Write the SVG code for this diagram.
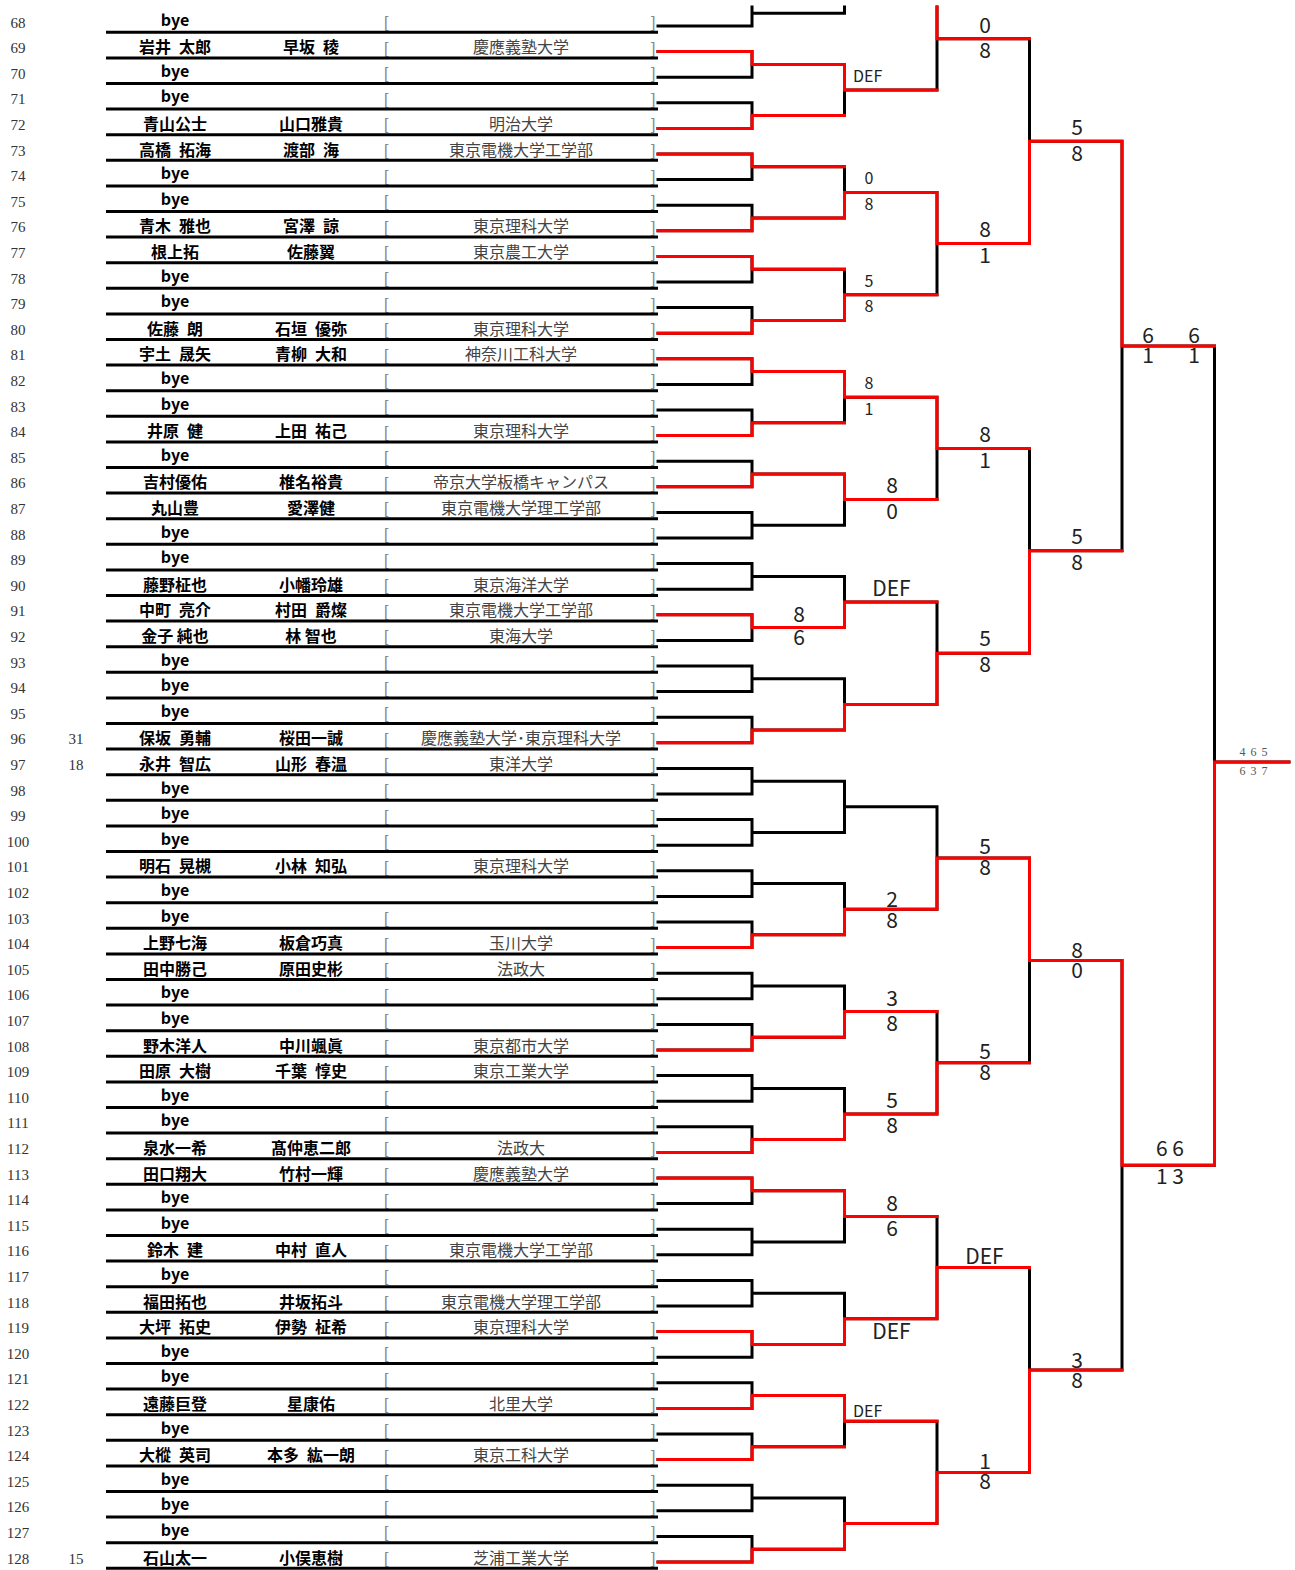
<svg xmlns="http://www.w3.org/2000/svg" xmlns:xlink="http://www.w3.org/1999/xlink" width="1295" height="1570" viewBox="0 0 1295 1570">
<style>
.num{font-family:"Liberation Serif",serif;font-size:15px;fill:#333;text-anchor:middle;dominant-baseline:central}
.nm{font-family:"Noto Sans CJK JP",sans-serif;font-size:16px;font-weight:bold;fill:#000;text-anchor:middle;dominant-baseline:central;transform:translateY(-2px)}
.by{transform:translateY(-4px)}
.un{font-family:"Noto Sans CJK JP",sans-serif;font-size:16px;fill:#444;text-anchor:middle;dominant-baseline:central;transform:translateY(-2px)}
.br{font-family:"Liberation Sans",sans-serif;font-size:16px;fill:#888;dominant-baseline:central}
.sc{font-family:"Noto Sans CJK JP",sans-serif;font-size:21px;fill:#222;text-anchor:middle;dominant-baseline:central;transform:translateY(-1px)}
.ss{font-size:16px}
.st{text-anchor:start}
.fin{font-family:"Liberation Serif",serif;font-size:12px;fill:#555;text-anchor:middle;dominant-baseline:central;letter-spacing:1px}
.blk{fill:none;stroke:#000;stroke-width:3;stroke-linecap:square;stroke-linejoin:miter}
.red{fill:none;stroke:#f00;stroke-width:3;stroke-linecap:square;stroke-linejoin:miter}
</style>
<defs>
<line id="rl" x1="106" y1="9.8" x2="658" y2="9.8" stroke="#000" stroke-width="3"/>
<text id="lb" class="br" x="384" y="0">[</text>
<text id="rb" class="br" x="651" y="0">]</text>
</defs>
<rect width="1295" height="1570" fill="#fff"/>
<g id="rows">
<g id="row68" transform="translate(0 22.5)"><text class="num" x="18">68</text><text class="nm by" x="175">bye</text><use href="#lb"/><use href="#rb"/><use href="#rl"/></g>
<g id="row69" transform="translate(0 48.1)"><text class="num" x="18">69</text><text class="nm" x="175">岩井&#8194;太郎</text><text class="nm" x="311">早坂&#8194;稜</text><use href="#lb"/><text class="un" x="521">慶應義塾大学</text><use href="#rb"/><use href="#rl"/></g>
<g id="row70" transform="translate(0 73.7)"><text class="num" x="18">70</text><text class="nm by" x="175">bye</text><use href="#lb"/><use href="#rb"/><use href="#rl"/></g>
<g id="row71" transform="translate(0 99.3)"><text class="num" x="18">71</text><text class="nm by" x="175">bye</text><use href="#lb"/><use href="#rb"/><use href="#rl"/></g>
<g id="row72" transform="translate(0 124.9)"><text class="num" x="18">72</text><text class="nm" x="175">青山公士</text><text class="nm" x="311">山口雅貴</text><use href="#lb"/><text class="un" x="521">明治大学</text><use href="#rb"/><use href="#rl"/></g>
<g id="row73" transform="translate(0 150.5)"><text class="num" x="18">73</text><text class="nm" x="175">高橋&#8194;拓海</text><text class="nm" x="311">渡部&#8194;海</text><use href="#lb"/><text class="un" x="521">東京電機大学工学部</text><use href="#rb"/><use href="#rl"/></g>
<g id="row74" transform="translate(0 176.1)"><text class="num" x="18">74</text><text class="nm by" x="175">bye</text><use href="#lb"/><use href="#rb"/><use href="#rl"/></g>
<g id="row75" transform="translate(0 201.7)"><text class="num" x="18">75</text><text class="nm by" x="175">bye</text><use href="#lb"/><use href="#rb"/><use href="#rl"/></g>
<g id="row76" transform="translate(0 227.3)"><text class="num" x="18">76</text><text class="nm" x="175">青木&#8194;雅也</text><text class="nm" x="311">宮澤&#8194;諒</text><use href="#lb"/><text class="un" x="521">東京理科大学</text><use href="#rb"/><use href="#rl"/></g>
<g id="row77" transform="translate(0 252.9)"><text class="num" x="18">77</text><text class="nm" x="175">根上拓</text><text class="nm" x="311">佐藤翼</text><use href="#lb"/><text class="un" x="521">東京農工大学</text><use href="#rb"/><use href="#rl"/></g>
<g id="row78" transform="translate(0 278.5)"><text class="num" x="18">78</text><text class="nm by" x="175">bye</text><use href="#lb"/><use href="#rb"/><use href="#rl"/></g>
<g id="row79" transform="translate(0 304.1)"><text class="num" x="18">79</text><text class="nm by" x="175">bye</text><use href="#lb"/><use href="#rb"/><use href="#rl"/></g>
<g id="row80" transform="translate(0 329.7)"><text class="num" x="18">80</text><text class="nm" x="175">佐藤&#8194;朗</text><text class="nm" x="311">石垣&#8194;優弥</text><use href="#lb"/><text class="un" x="521">東京理科大学</text><use href="#rb"/><use href="#rl"/></g>
<g id="row81" transform="translate(0 355.3)"><text class="num" x="18">81</text><text class="nm" x="175">宇土&#8194;晟矢</text><text class="nm" x="311">青柳&#8194;大和</text><use href="#lb"/><text class="un" x="521">神奈川工科大学</text><use href="#rb"/><use href="#rl"/></g>
<g id="row82" transform="translate(0 380.9)"><text class="num" x="18">82</text><text class="nm by" x="175">bye</text><use href="#lb"/><use href="#rb"/><use href="#rl"/></g>
<g id="row83" transform="translate(0 406.5)"><text class="num" x="18">83</text><text class="nm by" x="175">bye</text><use href="#lb"/><use href="#rb"/><use href="#rl"/></g>
<g id="row84" transform="translate(0 432.1)"><text class="num" x="18">84</text><text class="nm" x="175">井原&#8194;健</text><text class="nm" x="311">上田&#8194;祐己</text><use href="#lb"/><text class="un" x="521">東京理科大学</text><use href="#rb"/><use href="#rl"/></g>
<g id="row85" transform="translate(0 457.7)"><text class="num" x="18">85</text><text class="nm by" x="175">bye</text><use href="#lb"/><use href="#rb"/><use href="#rl"/></g>
<g id="row86" transform="translate(0 483.3)"><text class="num" x="18">86</text><text class="nm" x="175">吉村優佑</text><text class="nm" x="311">椎名裕貴</text><use href="#lb"/><text class="un" x="521">帝京大学板橋キャンパス</text><use href="#rb"/><use href="#rl"/></g>
<g id="row87" transform="translate(0 508.9)"><text class="num" x="18">87</text><text class="nm" x="175">丸山豊</text><text class="nm" x="311">愛澤健</text><use href="#lb"/><text class="un" x="521">東京電機大学理工学部</text><use href="#rb"/><use href="#rl"/></g>
<g id="row88" transform="translate(0 534.5)"><text class="num" x="18">88</text><text class="nm by" x="175">bye</text><use href="#lb"/><use href="#rb"/><use href="#rl"/></g>
<g id="row89" transform="translate(0 560.1)"><text class="num" x="18">89</text><text class="nm by" x="175">bye</text><use href="#lb"/><use href="#rb"/><use href="#rl"/></g>
<g id="row90" transform="translate(0 585.7)"><text class="num" x="18">90</text><text class="nm" x="175">藤野柾也</text><text class="nm" x="311">小幡玲雄</text><use href="#lb"/><text class="un" x="521">東京海洋大学</text><use href="#rb"/><use href="#rl"/></g>
<g id="row91" transform="translate(0 611.3)"><text class="num" x="18">91</text><text class="nm" x="175">中町&#8194;亮介</text><text class="nm" x="311">村田&#8194;爵燦</text><use href="#lb"/><text class="un" x="521">東京電機大学工学部</text><use href="#rb"/><use href="#rl"/></g>
<g id="row92" transform="translate(0 636.9)"><text class="num" x="18">92</text><text class="nm" x="175">金子 純也</text><text class="nm" x="311">林 智也</text><use href="#lb"/><text class="un" x="521">東海大学</text><use href="#rb"/><use href="#rl"/></g>
<g id="row93" transform="translate(0 662.5)"><text class="num" x="18">93</text><text class="nm by" x="175">bye</text><use href="#lb"/><use href="#rb"/><use href="#rl"/></g>
<g id="row94" transform="translate(0 688.1)"><text class="num" x="18">94</text><text class="nm by" x="175">bye</text><use href="#lb"/><use href="#rb"/><use href="#rl"/></g>
<g id="row95" transform="translate(0 713.7)"><text class="num" x="18">95</text><text class="nm by" x="175">bye</text><use href="#lb"/><use href="#rb"/><use href="#rl"/></g>
<g id="row96" transform="translate(0 739.3)"><text class="num" x="18">96</text><text class="num" x="76">31</text><text class="nm" x="175">保坂&#8194;勇輔</text><text class="nm" x="311">桜田一誠</text><use href="#lb"/><text class="un" x="521">慶應義塾大学･東京理科大学</text><use href="#rb"/><use href="#rl"/></g>
<g id="row97" transform="translate(0 764.9)"><text class="num" x="18">97</text><text class="num" x="76">18</text><text class="nm" x="175">永井&#8194;智広</text><text class="nm" x="311">山形&#8194;春温</text><use href="#lb"/><text class="un" x="521">東洋大学</text><use href="#rb"/><use href="#rl"/></g>
<g id="row98" transform="translate(0 790.5)"><text class="num" x="18">98</text><text class="nm by" x="175">bye</text><use href="#lb"/><use href="#rb"/><use href="#rl"/></g>
<g id="row99" transform="translate(0 816.1)"><text class="num" x="18">99</text><text class="nm by" x="175">bye</text><use href="#lb"/><use href="#rb"/><use href="#rl"/></g>
<g id="row100" transform="translate(0 841.7)"><text class="num" x="18">100</text><text class="nm by" x="175">bye</text><use href="#lb"/><use href="#rb"/><use href="#rl"/></g>
<g id="row101" transform="translate(0 867.3)"><text class="num" x="18">101</text><text class="nm" x="175">明石&#8194;晃槻</text><text class="nm" x="311">小林&#8194;知弘</text><use href="#lb"/><text class="un" x="521">東京理科大学</text><use href="#rb"/><use href="#rl"/></g>
<g id="row102" transform="translate(0 892.9)"><text class="num" x="18">102</text><text class="nm by" x="175">bye</text><use href="#rb"/><use href="#rl"/></g>
<g id="row103" transform="translate(0 918.5)"><text class="num" x="18">103</text><text class="nm by" x="175">bye</text><use href="#lb"/><use href="#rb"/><use href="#rl"/></g>
<g id="row104" transform="translate(0 944.1)"><text class="num" x="18">104</text><text class="nm" x="175">上野七海</text><text class="nm" x="311">板倉巧真</text><use href="#lb"/><text class="un" x="521">玉川大学</text><use href="#rb"/><use href="#rl"/></g>
<g id="row105" transform="translate(0 969.7)"><text class="num" x="18">105</text><text class="nm" x="175">田中勝己</text><text class="nm" x="311">原田史彬</text><use href="#lb"/><text class="un" x="521">法政大</text><use href="#rb"/><use href="#rl"/></g>
<g id="row106" transform="translate(0 995.3)"><text class="num" x="18">106</text><text class="nm by" x="175">bye</text><use href="#lb"/><use href="#rb"/><use href="#rl"/></g>
<g id="row107" transform="translate(0 1020.9)"><text class="num" x="18">107</text><text class="nm by" x="175">bye</text><use href="#lb"/><use href="#rb"/><use href="#rl"/></g>
<g id="row108" transform="translate(0 1046.5)"><text class="num" x="18">108</text><text class="nm" x="175">野木洋人</text><text class="nm" x="311">中川颯眞</text><use href="#lb"/><text class="un" x="521">東京都市大学</text><use href="#rb"/><use href="#rl"/></g>
<g id="row109" transform="translate(0 1072.1)"><text class="num" x="18">109</text><text class="nm" x="175">田原&#8194;大樹</text><text class="nm" x="311">千葉&#8194;惇史</text><use href="#lb"/><text class="un" x="521">東京工業大学</text><use href="#rb"/><use href="#rl"/></g>
<g id="row110" transform="translate(0 1097.7)"><text class="num" x="18">110</text><text class="nm by" x="175">bye</text><use href="#lb"/><use href="#rb"/><use href="#rl"/></g>
<g id="row111" transform="translate(0 1123.3)"><text class="num" x="18">111</text><text class="nm by" x="175">bye</text><use href="#lb"/><use href="#rb"/><use href="#rl"/></g>
<g id="row112" transform="translate(0 1148.9)"><text class="num" x="18">112</text><text class="nm" x="175">泉水一希</text><text class="nm" x="311">髙仲恵二郎</text><use href="#lb"/><text class="un" x="521">法政大</text><use href="#rb"/><use href="#rl"/></g>
<g id="row113" transform="translate(0 1174.5)"><text class="num" x="18">113</text><text class="nm" x="175">田口翔大</text><text class="nm" x="311">竹村一輝</text><use href="#lb"/><text class="un" x="521">慶應義塾大学</text><use href="#rb"/><use href="#rl"/></g>
<g id="row114" transform="translate(0 1200.1)"><text class="num" x="18">114</text><text class="nm by" x="175">bye</text><use href="#lb"/><use href="#rb"/><use href="#rl"/></g>
<g id="row115" transform="translate(0 1225.7)"><text class="num" x="18">115</text><text class="nm by" x="175">bye</text><use href="#lb"/><use href="#rb"/><use href="#rl"/></g>
<g id="row116" transform="translate(0 1251.3)"><text class="num" x="18">116</text><text class="nm" x="175">鈴木&#8194;建</text><text class="nm" x="311">中村&#8194;直人</text><use href="#lb"/><text class="un" x="521">東京電機大学工学部</text><use href="#rb"/><use href="#rl"/></g>
<g id="row117" transform="translate(0 1276.9)"><text class="num" x="18">117</text><text class="nm by" x="175">bye</text><use href="#lb"/><use href="#rb"/><use href="#rl"/></g>
<g id="row118" transform="translate(0 1302.5)"><text class="num" x="18">118</text><text class="nm" x="175">福田拓也</text><text class="nm" x="311">井坂拓斗</text><use href="#lb"/><text class="un" x="521">東京電機大学理工学部</text><use href="#rb"/><use href="#rl"/></g>
<g id="row119" transform="translate(0 1328.1)"><text class="num" x="18">119</text><text class="nm" x="175">大坪&#8194;拓史</text><text class="nm" x="311">伊勢&#8194;柾希</text><use href="#lb"/><text class="un" x="521">東京理科大学</text><use href="#rb"/><use href="#rl"/></g>
<g id="row120" transform="translate(0 1353.7)"><text class="num" x="18">120</text><text class="nm by" x="175">bye</text><use href="#lb"/><use href="#rb"/><use href="#rl"/></g>
<g id="row121" transform="translate(0 1379.3)"><text class="num" x="18">121</text><text class="nm by" x="175">bye</text><use href="#lb"/><use href="#rb"/><use href="#rl"/></g>
<g id="row122" transform="translate(0 1404.9)"><text class="num" x="18">122</text><text class="nm" x="175">遠藤巨登</text><text class="nm" x="311">星康佑</text><use href="#lb"/><text class="un" x="521">北里大学</text><use href="#rb"/><use href="#rl"/></g>
<g id="row123" transform="translate(0 1430.5)"><text class="num" x="18">123</text><text class="nm by" x="175">bye</text><use href="#lb"/><use href="#rb"/><use href="#rl"/></g>
<g id="row124" transform="translate(0 1456.1)"><text class="num" x="18">124</text><text class="nm" x="175">大樅&#8194;英司</text><text class="nm" x="311">本多&#8194;紘一朗</text><use href="#lb"/><text class="un" x="521">東京工科大学</text><use href="#rb"/><use href="#rl"/></g>
<g id="row125" transform="translate(0 1481.7)"><text class="num" x="18">125</text><text class="nm by" x="175">bye</text><use href="#lb"/><use href="#rb"/><use href="#rl"/></g>
<g id="row126" transform="translate(0 1507.3)"><text class="num" x="18">126</text><text class="nm by" x="175">bye</text><use href="#lb"/><use href="#rb"/><use href="#rl"/></g>
<g id="row127" transform="translate(0 1532.9)"><text class="num" x="18">127</text><text class="nm by" x="175">bye</text><use href="#lb"/><use href="#rb"/><use href="#rl"/></g>
<g id="row128" transform="translate(0 1558.5)"><text class="num" x="18">128</text><text class="num" x="76">15</text><text class="nm" x="175">石山太一</text><text class="nm" x="311">小俣恵樹</text><use href="#lb"/><text class="un" x="521">芝浦工業大学</text><use href="#rb"/><use href="#rl"/></g>
</g>
<g id="connectors">
<path class="blk" d="M752 7V26H658M752 13.2H844.5
M658 51.6H752V77.2H658M752 64.4H844.5
M658 102.8H752V128.4H658M752 115.6H844.5
M658 154H752V179.6H658M752 166.8H844.5
M658 205.2H752V230.8H658M752 218H844.5
M658 256.4H752V282H658M752 269.2H844.5
M658 307.6H752V333.2H658M752 320.4H844.5
M658 358.8H752V384.4H658M752 371.6H844.5
M658 410H752V435.6H658M752 422.8H844.5
M658 461.2H752V486.8H658M752 474H844.5
M658 512.4H752V538H658M752 525.2H844.5
M658 563.6H752V589.2H658M752 576.4H844.5
M658 614.8H752V640.4H658M752 627.6H844.5
M658 666H752V691.6H658M752 678.8H844.5
M658 717.2H752V742.8H658M752 730H844.5
M658 768.4H752V794H658M752 781.2H844.5
M658 819.6H752V845.2H658M752 832.4H844.5
M658 870.8H752V896.4H658M752 883.6H844.5
M658 922H752V947.6H658M752 934.8H844.5
M658 973.2H752V998.8H658M752 986H844.5
M658 1024.4H752V1050H658M752 1037.2H844.5
M658 1075.6H752V1101.2H658M752 1088.4H844.5
M658 1126.8H752V1152.4H658M752 1139.6H844.5
M658 1178H752V1203.6H658M752 1190.8H844.5
M658 1229.2H752V1254.8H658M752 1242H844.5
M658 1280.4H752V1306H658M752 1293.2H844.5
M658 1331.6H752V1357.2H658M752 1344.4H844.5
M658 1382.8H752V1408.4H658M752 1395.6H844.5
M658 1434H752V1459.6H658M752 1446.8H844.5
M658 1485.2H752V1510.8H658M752 1498H844.5
M658 1536.4H752V1562H658M752 1549.2H844.5
M844.5 7V13.2
M844.5 64.4V115.6M844.5 90H937
M844.5 166.8V218M844.5 192.4H937
M844.5 269.2V320.4M844.5 294.8H937
M844.5 371.6V422.8M844.5 397.2H937
M844.5 474V525.2M844.5 499.6H937
M844.5 576.4V627.6M844.5 602H937
M844.5 678.8V730M844.5 704.4H937
M844.5 781.2V832.4M844.5 806.8H937
M844.5 883.6V934.8M844.5 909.2H937
M844.5 986V1037.2M844.5 1011.6H937
M844.5 1088.4V1139.6M844.5 1114H937
M844.5 1190.8V1242M844.5 1216.4H937
M844.5 1293.2V1344.4M844.5 1318.8H937
M844.5 1395.6V1446.8M844.5 1421.2H937
M844.5 1498V1549.2M844.5 1523.6H937
M937 7V90M937 38.8H1029.5
M937 192.4V294.8M937 243.6H1029.5
M937 397.2V499.6M937 448.4H1029.5
M937 602V704.4M937 653.2H1029.5
M937 806.8V909.2M937 858H1029.5
M937 1011.6V1114M937 1062.8H1029.5
M937 1216.4V1318.8M937 1267.6H1029.5
M937 1421.2V1523.6M937 1472.4H1029.5
M1029.5 38.8V243.6M1029.5 141.2H1122
M1029.5 448.4V653.2M1029.5 550.8H1122
M1029.5 858V1062.8M1029.5 960.4H1122
M1029.5 1267.6V1472.4M1029.5 1370H1122
M1122 141.2V550.8M1122 346H1214.5
M1122 960.4V1370M1122 1165.2H1214.5
M1214.5 346V1165.2M1214.5 762H1289"/>
<path class="red" d="M658 51.6H752V64.4H844.5
M658 128.4H752V115.6H844.5
M658 154H752V166.8H844.5
M658 230.8H752V218H844.5
M658 256.4H752V269.2H844.5
M658 333.2H752V320.4H844.5
M658 358.8H752V371.6H844.5
M658 435.6H752V422.8H844.5
M658 486.8H752V474H844.5
M658 614.8H752V627.6H844.5
M658 742.8H752V730H844.5
M658 947.6H752V934.8H844.5
M658 1050H752V1037.2H844.5
M658 1152.4H752V1139.6H844.5
M658 1178H752V1190.8H844.5
M658 1331.6H752V1344.4H844.5
M658 1408.4H752V1395.6H844.5
M658 1459.6H752V1446.8H844.5
M658 1562H752V1549.2H844.5
M844.5 64.4V90H937
M844.5 218V192.4H937
M844.5 320.4V294.8H937
M844.5 371.6V397.2H937
M844.5 474V499.6H937
M844.5 627.6V602H937
M844.5 730V704.4H937
M844.5 934.8V909.2H937
M844.5 1037.2V1011.6H937
M844.5 1139.6V1114H937
M844.5 1190.8V1216.4H937
M844.5 1344.4V1318.8H937
M844.5 1395.6V1421.2H937
M844.5 1549.2V1523.6H937
M937 7V38.8H1029.5
M937 192.4V243.6H1029.5
M937 397.2V448.4H1029.5
M937 704.4V653.2H1029.5
M937 909.2V858H1029.5
M937 1114V1062.8H1029.5
M937 1318.8V1267.6H1029.5
M937 1523.6V1472.4H1029.5
M1029.5 243.6V141.2H1122
M1029.5 653.2V550.8H1122
M1029.5 858V960.4H1122
M1029.5 1472.4V1370H1122
M1122 141.2V346H1214.5
M1122 960.4V1165.2H1214.5
M1214.5 1165.2V762H1289"/>
</g>
<g id="scores">
<text class="sc" x="985" y="25">0</text><text class="sc" x="985" y="50">8</text>
<text class="sc ss st" x="853" y="76">DEF</text>
<text class="sc" x="1077" y="127">5</text><text class="sc" x="1077" y="153">8</text>
<text class="sc ss" x="869" y="178">0</text><text class="sc ss" x="869" y="204">8</text>
<text class="sc" x="985" y="229">8</text><text class="sc" x="985" y="255">1</text>
<text class="sc ss" x="869" y="281">5</text><text class="sc ss" x="869" y="306">8</text>
<text class="sc" x="1148" y="335">6</text><text class="sc" x="1194" y="335">6</text>
<text class="sc" x="1148" y="355">1</text><text class="sc" x="1194" y="355">1</text>
<text class="sc ss" x="869" y="383">8</text><text class="sc ss" x="869" y="409">1</text>
<text class="sc" x="985" y="434">8</text><text class="sc" x="985" y="460">1</text>
<text class="sc" x="892" y="485">8</text><text class="sc" x="892" y="511">0</text>
<text class="sc" x="1077" y="536">5</text><text class="sc" x="1077" y="562">8</text>
<text class="sc" x="891.5" y="588">DEF</text>
<text class="sc" x="799" y="614">8</text><text class="sc" x="799" y="637">6</text>
<text class="sc" x="985" y="638">5</text><text class="sc" x="985" y="664">8</text>
<text class="fin" x="1254" y="752">4 6 5</text><text class="fin" x="1254" y="771">6 3 7</text>
<text class="sc" x="985" y="846">5</text><text class="sc" x="985" y="867">8</text>
<text class="sc" x="892" y="899">2</text><text class="sc" x="892" y="920">8</text>
<text class="sc" x="1077" y="950">8</text><text class="sc" x="1077" y="970">0</text>
<text class="sc" x="892" y="998">3</text><text class="sc" x="892" y="1023">8</text>
<text class="sc" x="985" y="1051">5</text><text class="sc" x="985" y="1072">8</text>
<text class="sc" x="892" y="1100">5</text><text class="sc" x="892" y="1125">8</text>
<text class="sc" x="1170" y="1148">6 6</text><text class="sc" x="1170" y="1176">1 3</text>
<text class="sc" x="892" y="1203">8</text><text class="sc" x="892" y="1228">6</text>
<text class="sc" x="984.5" y="1256">DEF</text>
<text class="sc" x="891.5" y="1331">DEF</text>
<text class="sc" x="1077" y="1360">3</text><text class="sc" x="1077" y="1380">8</text>
<text class="sc ss st" x="853" y="1411">DEF</text>
<text class="sc" x="985" y="1461">1</text><text class="sc" x="985" y="1481">8</text>
</g>
</svg>
